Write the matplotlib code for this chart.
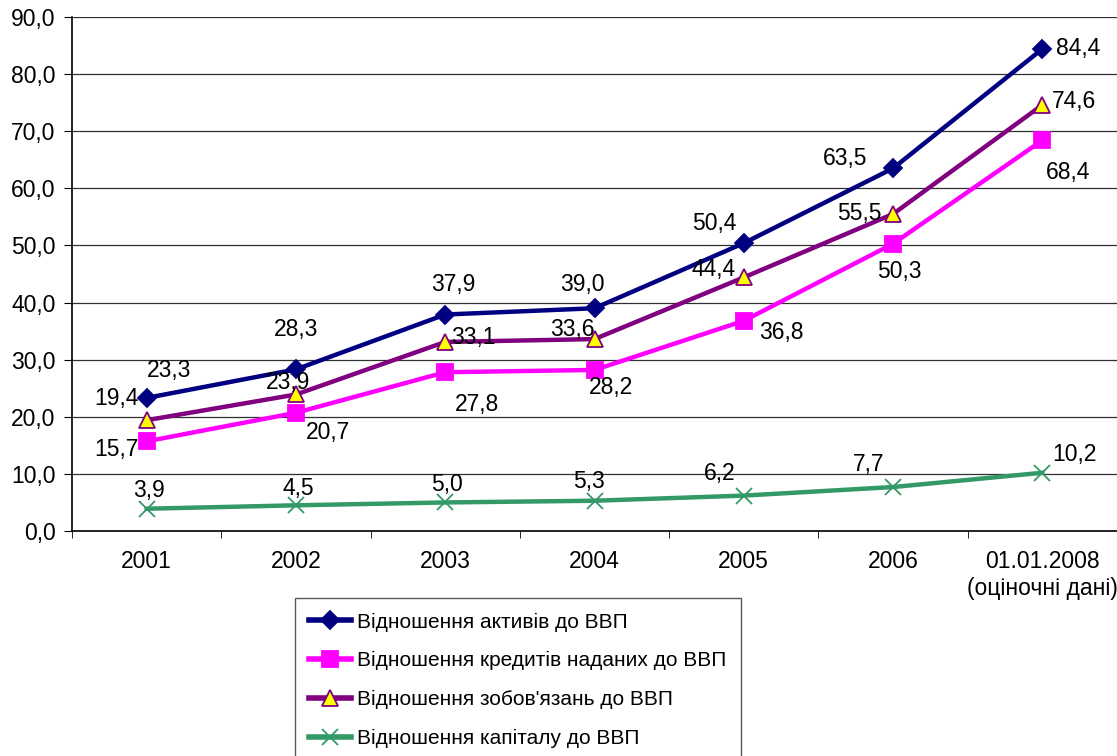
import matplotlib.pyplot as plt
from matplotlib.lines import Line2D

plt.rcParams['font.family'] = ['Liberation Sans Narrow', 'Liberation Sans', 'DejaVu Sans']

categories = ['2001', '2002', '2003', '2004', '2005', '2006', '01.01.2008\n(оціночні дані)']
assets = [23.3, 28.3, 37.9, 39.0, 50.4, 63.5, 84.4]
credits = [15.7, 20.7, 27.8, 28.2, 36.8, 50.3, 68.4]
liabilities = [19.4, 23.9, 33.1, 33.6, 44.4, 55.5, 74.6]
capital = [3.9, 4.5, 5.0, 5.3, 6.2, 7.7, 10.2]

names = ['Відношення активів до ВВП',
         'Відношення кредитів наданих до ВВП',
         'Відношення зобов\'язань до ВВП',
         'Відношення капіталу до ВВП']

# label offsets in pixels (dx, dy) for each point
off_assets = [(22, 27), (0, 40), (8, 30), (-12, 24), (-30, 20), (-48, 10), (36, 0)]
off_credits = [(-30, -8), (32, -20), (32, -32), (16, -18), (38, -12), (6, -28), (26, -32)]
off_liab = [(-30, 22), (-8, 12), (28, 4), (-22, 10), (-30, 8), (-34, 0), (32, 3)]
off_cap = [(2, 18), (2, 17), (2, 18), (-6, 19), (-24, 22), (-24, 23), (32, 18)]

fig = plt.figure(figsize=(11.17, 7.56), dpi=100)
ax = fig.add_axes([0.0645, 0.2976, 0.9355, 0.68])

x = list(range(len(categories)))
series = [
    (assets, '#000080', 'D', '#000080', '#000080', 9, off_assets),
    (credits, '#FF00FF', 's', '#FF00FF', '#FF00FF', 11, off_credits),
    (liabilities, '#800080', '^', '#FFFF00', '#800080', 11, off_liab),
    (capital, '#339966', 'x', '#339966', '#339966', 11, off_cap),
]

handles = []
for (vals, col, mk, fc, ec, ms, offs), name in zip(series, names):
    ax.plot(x, vals, color=col, lw=3.2, zorder=3)
    ax.plot(x, vals, ls='none', marker=mk, markersize=ms, markerfacecolor=fc,
            markeredgecolor=ec, markeredgewidth=1.3, zorder=4)
    for xi, v, (dx, dy) in zip(x, vals, offs):
        ax.annotate(f'{v:.1f}'.replace('.', ','), (xi, v), xytext=(dx, dy),
                    textcoords='offset pixels', ha='center', va='center',
                    fontsize=16.5, zorder=5)
    handles.append(Line2D([], [], color=col, lw=4, marker=mk, markersize=ms,
                          markerfacecolor=fc, markeredgecolor=ec, markeredgewidth=1.3))

ax.set_xlim(-0.5, 6.5)
ax.set_ylim(0, 90)
ax.set_yticks(range(0, 91, 10))
ax.set_yticklabels([f'{t:.1f}'.replace('.', ',') for t in range(0, 91, 10)], fontsize=16.5)
ax.set_xticks(x)
ax.set_xticklabels(categories, fontsize=16.5)
ax.set_xticks([i + 0.5 for i in range(-1, 7)], minor=True)
ax.tick_params(axis='x', which='major', length=0, pad=14)
ax.tick_params(axis='x', which='minor', length=5, direction='out')
ax.tick_params(axis='y', length=6, direction='out', pad=6)
ax.yaxis.grid(True, color='#303030', lw=0.9)
ax.set_axisbelow(True)
for s in ['top', 'right']:
    ax.spines[s].set_visible(False)
ax.spines['left'].set_linewidth(1.2)
ax.spines['bottom'].set_linewidth(1.2)

leg = fig.legend(handles, names, loc='upper left', bbox_to_anchor=(0.264, 0.209),
                 fontsize=15, frameon=True, fancybox=False, edgecolor='#303030',
                 handlelength=2.0, handletextpad=0.3, labelspacing=0.95,
                 borderpad=0.7, borderaxespad=0)
leg.get_frame().set_linewidth(1.0)

fig.savefig('out.png', dpi=100)
